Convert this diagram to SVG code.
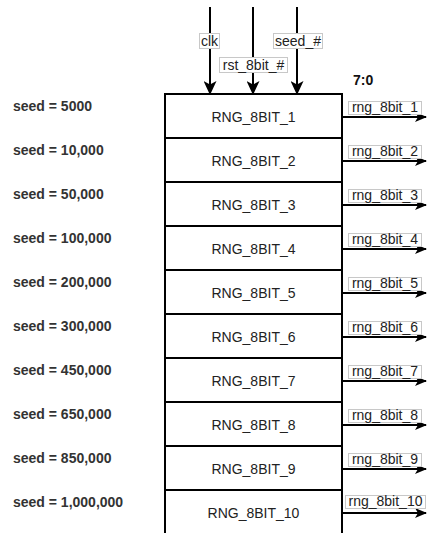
<svg xmlns="http://www.w3.org/2000/svg" width="427" height="533" viewBox="0 0 427 533">
<style>
.box{fill:#fff;stroke:#000;stroke-width:2}
.bt{font-family:"Liberation Sans",Arial,sans-serif;font-size:14px;fill:#222;text-anchor:middle}
.seed{font-family:"Liberation Sans",Arial,sans-serif;font-size:14px;font-weight:bold;fill:#333}
.lbl{fill:#fff;stroke:#c8c8c8;stroke-width:1}
.lt{font-family:"Liberation Sans",Arial,sans-serif;font-size:14px;fill:#222;text-anchor:middle}
.wire{stroke:#000;stroke-width:2;fill:none}
.bold{font-family:"Liberation Sans",Arial,sans-serif;font-size:14px;font-weight:bold;fill:#111}
</style>
<defs>
<marker id="ah" markerUnits="userSpaceOnUse" markerWidth="14" markerHeight="13" viewBox="0 0 14 13" refX="13" refY="6.5" orient="auto">
<path d="M0,0 L14,6.5 L0,13 L3.5,6.5 Z" fill="#000"/>
</marker>
<marker id="ahs" markerUnits="userSpaceOnUse" markerWidth="12" markerHeight="10" viewBox="0 0 12 10" refX="11" refY="5" orient="auto">
<path d="M0,0 L12,5 L0,10 L3,5 Z" fill="#000"/>
</marker>
</defs>
<g id="connectors">
<line class="wire" x1="210" y1="7" x2="210" y2="94" marker-end="url(#ah)"/>
<line class="wire" x1="253" y1="7" x2="253" y2="94" marker-end="url(#ah)"/>
<line class="wire" x1="297" y1="7" x2="297" y2="94" marker-end="url(#ah)"/>
<g id="in-labels">
<rect class="lbl" x="199.5" y="33.5" width="20" height="15"/>
<text class="lt" x="209.5" y="45.5">clk</text>
<rect class="lbl" x="219.5" y="57.5" width="68" height="15"/>
<text class="lt" x="253.5" y="69.5">rst_8bit_#</text>
<rect class="lbl" x="273.5" y="33.5" width="49" height="15"/>
<text class="lt" x="298" y="45.5">seed_#</text>
</g>
<line class="wire" x1="342" y1="117" x2="426" y2="117" marker-end="url(#ahs)"/>
<line class="wire" x1="342" y1="161" x2="426" y2="161" marker-end="url(#ahs)"/>
<line class="wire" x1="342" y1="205" x2="426" y2="205" marker-end="url(#ahs)"/>
<line class="wire" x1="342" y1="249" x2="426" y2="249" marker-end="url(#ahs)"/>
<line class="wire" x1="342" y1="293" x2="426" y2="293" marker-end="url(#ahs)"/>
<line class="wire" x1="342" y1="337" x2="426" y2="337" marker-end="url(#ahs)"/>
<line class="wire" x1="342" y1="381" x2="426" y2="381" marker-end="url(#ahs)"/>
<line class="wire" x1="342" y1="425" x2="426" y2="425" marker-end="url(#ahs)"/>
<line class="wire" x1="342" y1="469" x2="426" y2="469" marker-end="url(#ahs)"/>
<line class="wire" x1="342" y1="513" x2="426" y2="513" marker-end="url(#ahs)"/>
<g id="out-labels">
<rect class="lbl" x="348.5" y="101.5" width="73" height="13"/><text class="lt" x="385" y="112">rng_8bit_1</text>
<rect class="lbl" x="348.5" y="145.5" width="73" height="13"/><text class="lt" x="385" y="156">rng_8bit_2</text>
<rect class="lbl" x="348.5" y="189.5" width="73" height="13"/><text class="lt" x="385" y="200">rng_8bit_3</text>
<rect class="lbl" x="348.5" y="233.5" width="73" height="13"/><text class="lt" x="385" y="244">rng_8bit_4</text>
<rect class="lbl" x="348.5" y="277.5" width="73" height="13"/><text class="lt" x="385" y="288">rng_8bit_5</text>
<rect class="lbl" x="348.5" y="321.5" width="73" height="13"/><text class="lt" x="385" y="332">rng_8bit_6</text>
<rect class="lbl" x="348.5" y="365.5" width="73" height="13"/><text class="lt" x="385" y="376">rng_8bit_7</text>
<rect class="lbl" x="348.5" y="409.5" width="73" height="13"/><text class="lt" x="385" y="420">rng_8bit_8</text>
<rect class="lbl" x="348.5" y="453.5" width="73" height="13"/><text class="lt" x="385" y="464">rng_8bit_9</text>
<rect class="lbl" x="345.5" y="495.5" width="80" height="13"/><text class="lt" x="385.5" y="506">rng_8bit_10</text>
</g>
</g>
<text class="bold" x="353" y="85">7:0</text>
<g id="nodes">
<g id="rng1"><rect class="box" x="165" y="94" width="177" height="44"/><text class="bt" x="253.5" y="122">RNG_8BIT_1</text></g>
<g id="rng2"><rect class="box" x="165" y="138" width="177" height="44"/><text class="bt" x="253.5" y="166">RNG_8BIT_2</text></g>
<g id="rng3"><rect class="box" x="165" y="182" width="177" height="44"/><text class="bt" x="253.5" y="210">RNG_8BIT_3</text></g>
<g id="rng4"><rect class="box" x="165" y="226" width="177" height="44"/><text class="bt" x="253.5" y="254">RNG_8BIT_4</text></g>
<g id="rng5"><rect class="box" x="165" y="270" width="177" height="44"/><text class="bt" x="253.5" y="298">RNG_8BIT_5</text></g>
<g id="rng6"><rect class="box" x="165" y="314" width="177" height="44"/><text class="bt" x="253.5" y="342">RNG_8BIT_6</text></g>
<g id="rng7"><rect class="box" x="165" y="358" width="177" height="44"/><text class="bt" x="253.5" y="386">RNG_8BIT_7</text></g>
<g id="rng8"><rect class="box" x="165" y="402" width="177" height="44"/><text class="bt" x="253.5" y="430">RNG_8BIT_8</text></g>
<g id="rng9"><rect class="box" x="165" y="446" width="177" height="44"/><text class="bt" x="253.5" y="474">RNG_8BIT_9</text></g>
<g id="rng10"><rect class="box" x="165" y="490" width="177" height="48"/><text class="bt" x="253.5" y="518">RNG_8BIT_10</text></g>
</g>
<g id="seeds">
<text class="seed" x="13" y="111">seed = 5000</text>
<text class="seed" x="13" y="155">seed = 10,000</text>
<text class="seed" x="13" y="199">seed = 50,000</text>
<text class="seed" x="13" y="243">seed = 100,000</text>
<text class="seed" x="13" y="287">seed = 200,000</text>
<text class="seed" x="13" y="331">seed = 300,000</text>
<text class="seed" x="13" y="375">seed = 450,000</text>
<text class="seed" x="13" y="419">seed = 650,000</text>
<text class="seed" x="13" y="463">seed = 850,000</text>
<text class="seed" x="13" y="507">seed = 1,000,000</text>
</g>
</svg>
